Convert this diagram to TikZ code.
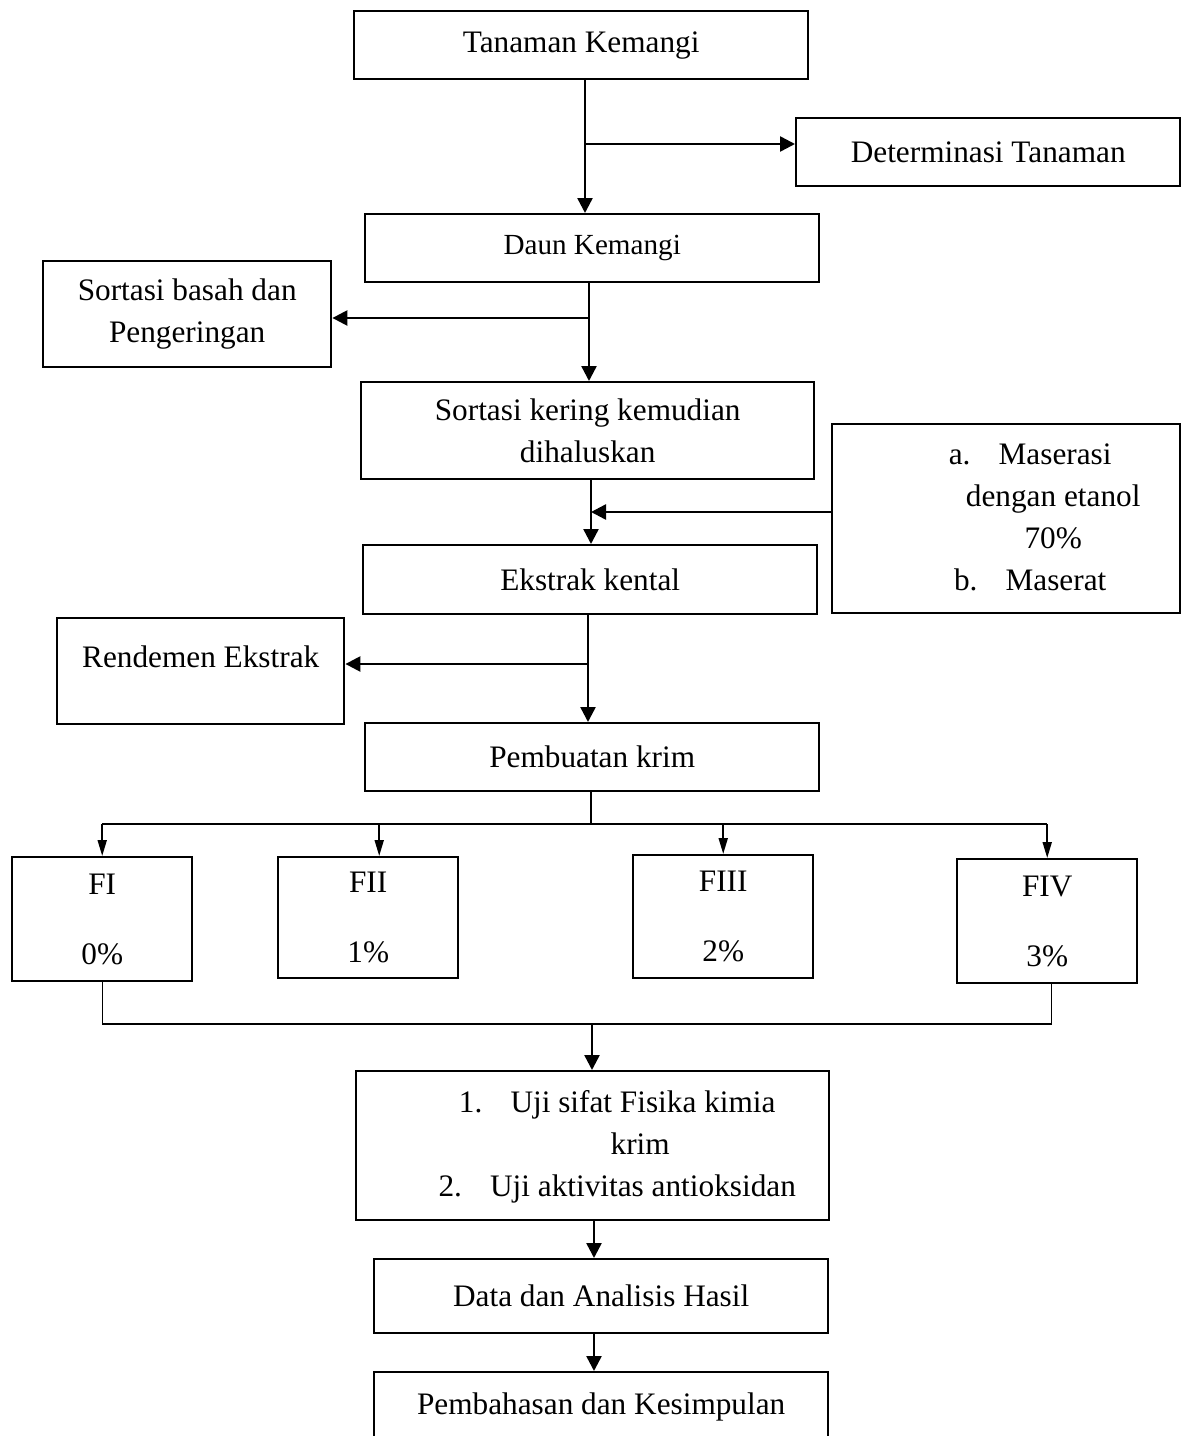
\documentclass[tikz,border=0pt]{standalone}
\usepackage{fontspec}
\setmainfont{Liberation Serif}
\usetikzlibrary{arrows.meta,calc}
\tikzset{
  stepbox/.style={draw, line width=1.4pt, anchor=north west, align=center,
    inner sep=2pt, font=\fontsize{17.8}{23.9}\selectfont},
  formbox/.style={stepbox, minimum width=3.6cm},
  arrow/.style={-{Triangle[length=0.3cm,width=0.3cm]}, line width=1.4pt},
  thinarrow/.style={-{Triangle[length=0.32cm,width=0.18cm]}, line width=1.1pt},
  joinline/.style={line width=0.6pt}
}
% text block pushed right inside its box
\newcommand{\shiftedlines}[2]{\makebox[0pt]{\hspace*{#1}\begin{tabular}{@{}c@{}}#2\end{tabular}}}

\begin{document}
\begin{tikzpicture}[x=0.02cm,y=-0.02cm]
  \fill[white] (0,0) rectangle (1181,1436);
  \useasboundingbox (0,0) rectangle (1181,1436);

  % main column
  \node[stepbox, minimum width=9.08cm, minimum height=1.36cm] (tanaman) at (353,10) {Tanaman Kemangi};
  \node[stepbox, minimum width=7.68cm, minimum height=1.36cm] (determinasi) at (795,117) {Determinasi Tanaman};
  \node[stepbox, minimum width=9.08cm, minimum height=1.36cm,
    font=\fontsize{16.6}{20}\selectfont] (daun) at (364,213) {Daun Kemangi};
  \node[stepbox, minimum width=5.76cm, minimum height=2.12cm] (basah) at (42,260) {Sortasi basah dan\\Pengeringan};
  \node[stepbox, minimum width=9.06cm, minimum height=1.94cm] (kering) at (360,381) {Sortasi kering kemudian\\dihaluskan};
  \node[stepbox, minimum width=6.96cm, minimum height=3.78cm] (maserasi) at (831,423)
    {\shiftedlines{1.88cm}{a.\hspace{0.9em}Maserasi\hspace*{0.92cm}\\ dengan etanol\\ 70\%\\ b.\hspace{0.9em}Maserat\hspace*{0.92cm}}};
  \node[stepbox, minimum width=9.08cm, minimum height=1.38cm] (ekstrak) at (362,544) {Ekstrak kental};
  \node[stepbox, minimum width=5.74cm, minimum height=2.12cm,
    text height=0.42cm, text depth=0.58cm] (rendemen) at (56,617) {Rendemen Ekstrak};
  \node[stepbox, minimum width=9.08cm, minimum height=1.36cm] (krim) at (364,722) {Pembuatan krim};

  % formulas
  \node[formbox, minimum height=2.48cm] (fi) at (11,856) {FI\\[15.8pt]0\%};
  \node[formbox, minimum height=2.42cm] (fii) at (277,856) {FII\\[15.8pt]1\%};
  \node[formbox, minimum height=2.46cm] (fiii) at (632,854) {FIII\\[15.8pt]2\%};
  \node[formbox, minimum height=2.48cm] (fiv) at (956,858) {FIV\\[15.8pt]3\%};

  \node[stepbox, minimum width=9.46cm, minimum height=2.98cm] (uji) at (355,1070)
    {\shiftedlines{1.9cm}{1.\hspace{0.9em}Uji sifat Fisika kimia\hspace*{0.92cm}\\ krim\\ 2.\hspace{0.9em}Uji aktivitas antioksidan\hspace*{0.92cm}}};
  \node[stepbox, minimum width=9.08cm, minimum height=1.48cm] (data) at (373,1258) {Data dan Analisis Hasil};
  \node[stepbox, minimum width=9.08cm, minimum height=1.4cm] (bahas) at (373,1371) {Pembahasan dan Kesimpulan};

  % junctions
  \coordinate (s1) at (585,144);
  \coordinate (s2) at (589,318);
  \coordinate (s3) at (591,512);
  \coordinate (s4) at (588,664);
  \coordinate (s5) at (591,824);
  \coordinate (s6) at (592,1024);
  \coordinate (s7) at (594,1300);

  \draw[arrow] (s1 |- tanaman.south) -- (s1 |- daun.north);
  \draw[arrow] (s1) -- (s1 -| determinasi.west);
  \draw[arrow] (s2 |- daun.south) -- (s2 |- kering.north);
  \draw[arrow] (s2) -- (s2 -| basah.east);
  \draw[arrow] (s3 |- kering.south) -- (s3 |- ekstrak.north);
  \draw[arrow] (s3 -| maserasi.west) -- (s3);
  \draw[arrow] (s4 |- ekstrak.south) -- (s4 |- krim.north);
  \draw[arrow] (s4) -- (s4 -| rendemen.east);

  % split to formulas
  \draw[line width=1.4pt] (s5 |- krim.south) -- (s5);
  \draw[line width=1.1pt] (s5 -| fi.north) -- (s5 -| fiv.north);
  \draw[thinarrow] (s5 -| fi.north) -- (fi.north);
  \draw[thinarrow] ([xshift=0.22cm]fii.north |- s5) -- ([xshift=0.22cm]fii.north);
  \draw[thinarrow] (s5 -| fiii.north) -- (fiii.north);
  \draw[thinarrow] (s5 -| fiv.north) -- (fiv.north);

  % merge
  \draw[joinline] (fi.south) -- (fi.south |- s6) -- ([xshift=0.08cm]fiv.south |- s6) -- ([xshift=0.08cm]fiv.south);
  \draw[arrow] (s6) -- (s6 |- uji.north);
  \draw[arrow] (s7 |- uji.south) -- (s7 |- data.north);
  \draw[arrow] (s7 |- data.south) -- (s7 |- bahas.north);
\end{tikzpicture}
\end{document}
